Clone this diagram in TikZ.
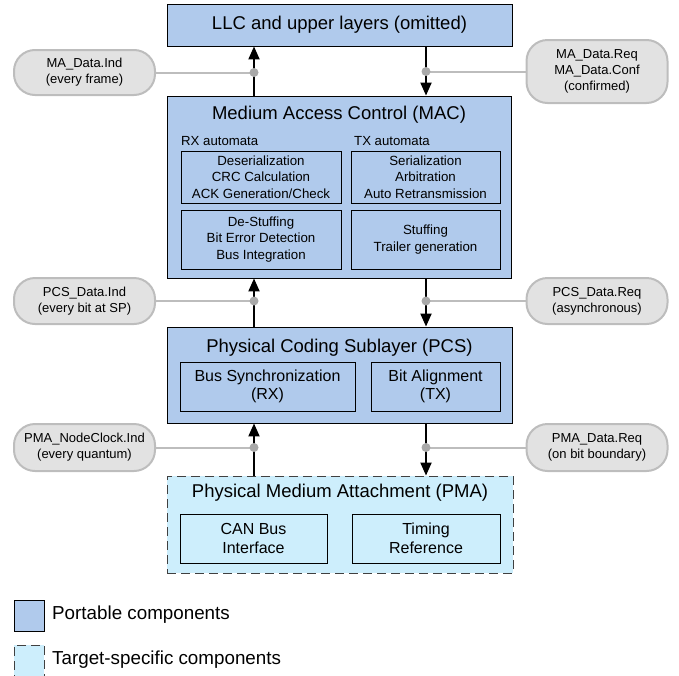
\documentclass[tikz,border=0pt]{standalone}
\usepackage{fontspec}
\setmainfont{Liberation Sans}
\usetikzlibrary{arrows.meta}
\definecolor{portblue}{HTML}{B0CAEC}
\definecolor{targcyan}{HTML}{CDEEFC}
\definecolor{pillfill}{HTML}{E2E2E2}
\definecolor{pillline}{HTML}{BDBDBD}
\definecolor{dotgray}{HTML}{A9A9A9}
\tikzset{
  bluebox/.style={draw=black, line width=0.9pt, fill=portblue, inner sep=0pt},
  cyanbox/.style={draw=black!75, line width=0.9pt, fill=targcyan, dash pattern=on 9pt off 5pt, inner sep=0pt},
  inbox/.style={draw=black, line width=0.9pt, inner sep=0pt, align=center},
  macin/.style={inbox, font=\fontsize{13.3}{16.3}\selectfont},
  pcsin/.style={inbox, font=\fontsize{16}{18.5}\selectfont},
  title/.style={font=\fontsize{18.5}{22}\selectfont, inner sep=0pt},
  sublabel/.style={font=\fontsize{13.2}{16}\selectfont, inner sep=0pt, anchor=west},
  pill/.style={draw=pillline, line width=2pt, fill=pillfill, rounded corners=21pt, align=center,
    font=\fontsize{13}{16}\selectfont, inner sep=0pt, minimum width=141pt},
  arr/.style={line width=2pt, -{Triangle[length=13pt,width=11pt]}},
  tap/.style={draw=pillline, line width=2pt},
  dot/.style={fill=dotgray},
  legtext/.style={font=\fontsize{18.8}{22}\selectfont, inner sep=0pt, anchor=west}
}
\begin{document}
\begin{tikzpicture}[x=1pt,y=-1pt]
\useasboundingbox (0,0) rectangle (679,675);

% layers
\node[bluebox, minimum width=345pt, minimum height=42pt] (llc) at (339.5,25) {};
\node[title] (llct) at (llc.center) {LLC and upper layers (omitted)};

\node[bluebox, minimum width=344pt, minimum height=182pt] (mac) at (339,187) {};
\node[title] (mact) at (339,115) {Medium Access Control (MAC)};
\node[sublabel] (rxl) at (181,141) {RX automata};
\node[sublabel] (txl) at (354,141) {TX automata};
\node[macin, minimum width=160pt, minimum height=52pt] (rx1) at (261,177) {Deserialization\\CRC Calculation\\ACK Generation/Check};
\node[macin, minimum width=160pt, minimum height=59pt] (rx2) at (261,239.5) {De-Stuffing\\Bit Error Detection\\Bus Integration};
\node[macin, minimum width=149pt, minimum height=52pt] (tx1) at (425.5,177) {Serialization\\Arbitration\\Auto Retransmission};
\node[macin, minimum width=149pt, minimum height=59pt] (tx2) at (425.5,239.5) {Stuffing\\Trailer generation};

\node[bluebox, minimum width=345pt, minimum height=96pt] (pcs) at (339.5,375) {};
\node[title] (pcst) at (339.5,348) {Physical Coding Sublayer (PCS)};
\node[pcsin, minimum width=175pt, minimum height=49pt] (bs) at (267.5,386.5) {Bus Synchronization\\(RX)};
\node[pcsin, minimum width=129pt, minimum height=49pt] (ba) at (435.5,386.5) {Bit Alignment\\(TX)};

\node[cyanbox, minimum width=346pt, minimum height=97pt] (pma) at (340,524.5) {};
\node[title] (pmat) at (340,493) {Physical Medium Attachment (PMA)};
\node[pcsin, minimum width=147pt, minimum height=49pt] (can) at (253.5,538.5) {CAN Bus\\Interface};
\node[pcsin, minimum width=148pt, minimum height=49pt] (tim) at (426,538.5) {Timing\\Reference};

% pills
\node[pill, minimum height=45pt] (p1) at (84.5,72.5) {MA\_Data.Ind\\(every frame)};
\node[pill, minimum height=63pt] (p2) at (597,71.5) {MA\_Data.Req\\MA\_Data.Conf\\(confirmed)};
\node[pill, minimum height=46pt] (p3) at (84.5,301) {PCS\_Data.Ind\\(every bit at SP)};
\node[pill, minimum height=46pt] (p4) at (597,301) {PCS\_Data.Req\\(asynchronous)};
\node[pill, minimum height=47pt] (p5) at (84.5,447.5) {PMA\_NodeClock.Ind\\(every quantum)};
\node[pill, minimum height=47pt] (p6) at (597,447.5) {PMA\_Data.Req\\(on bit boundary)};

\coordinate (rx) at (254,0);
\coordinate (tx) at (426,0);

% taps
\draw[tap] (p1.east) -- (p1.east -| rx);
\draw[tap] (p2.west) -- (p2.west -| tx);
\draw[tap] (p3.east) -- (p3.east -| rx);
\draw[tap] (p4.west) -- (p4.west -| tx);
\draw[tap] (p5.east) -- (p5.east -| rx);
\draw[tap] (p6.west) -- (p6.west -| tx);

% arrows
\draw[arr] (mac.north -| rx) -- (llc.south -| rx);
\draw[arr] (llc.south -| tx) -- (mac.north -| tx);
\draw[arr] (pcs.north -| rx) -- (mac.south -| rx);
\draw[arr] (mac.south -| tx) -- (pcs.north -| tx);
\draw[arr] (pma.north -| rx) -- (pcs.south -| rx);
\draw[arr] (pcs.south -| tx) -- (pma.north -| tx);

% dots
\fill[dot] (p1.east -| rx) circle (4.5pt);
\fill[dot] (p2.west -| tx) circle (4.5pt);
\fill[dot] (p3.east -| rx) circle (4.5pt);
\fill[dot] (p4.west -| tx) circle (4.5pt);
\fill[dot] (p5.east -| rx) circle (4.5pt);
\fill[dot] (p6.west -| tx) circle (4.5pt);

% legend
\node[bluebox, minimum width=30pt, minimum height=31pt] (lg1) at (29,615.5) {};
\node[legtext] (lg1t) at (52,615) {Portable components};
\node[cyanbox, minimum width=30pt, minimum height=50pt] (lg2) at (29,670) {};
\node[legtext] (lg2t) at (52,660) {Target-specific components};
\end{tikzpicture}
\end{document}
